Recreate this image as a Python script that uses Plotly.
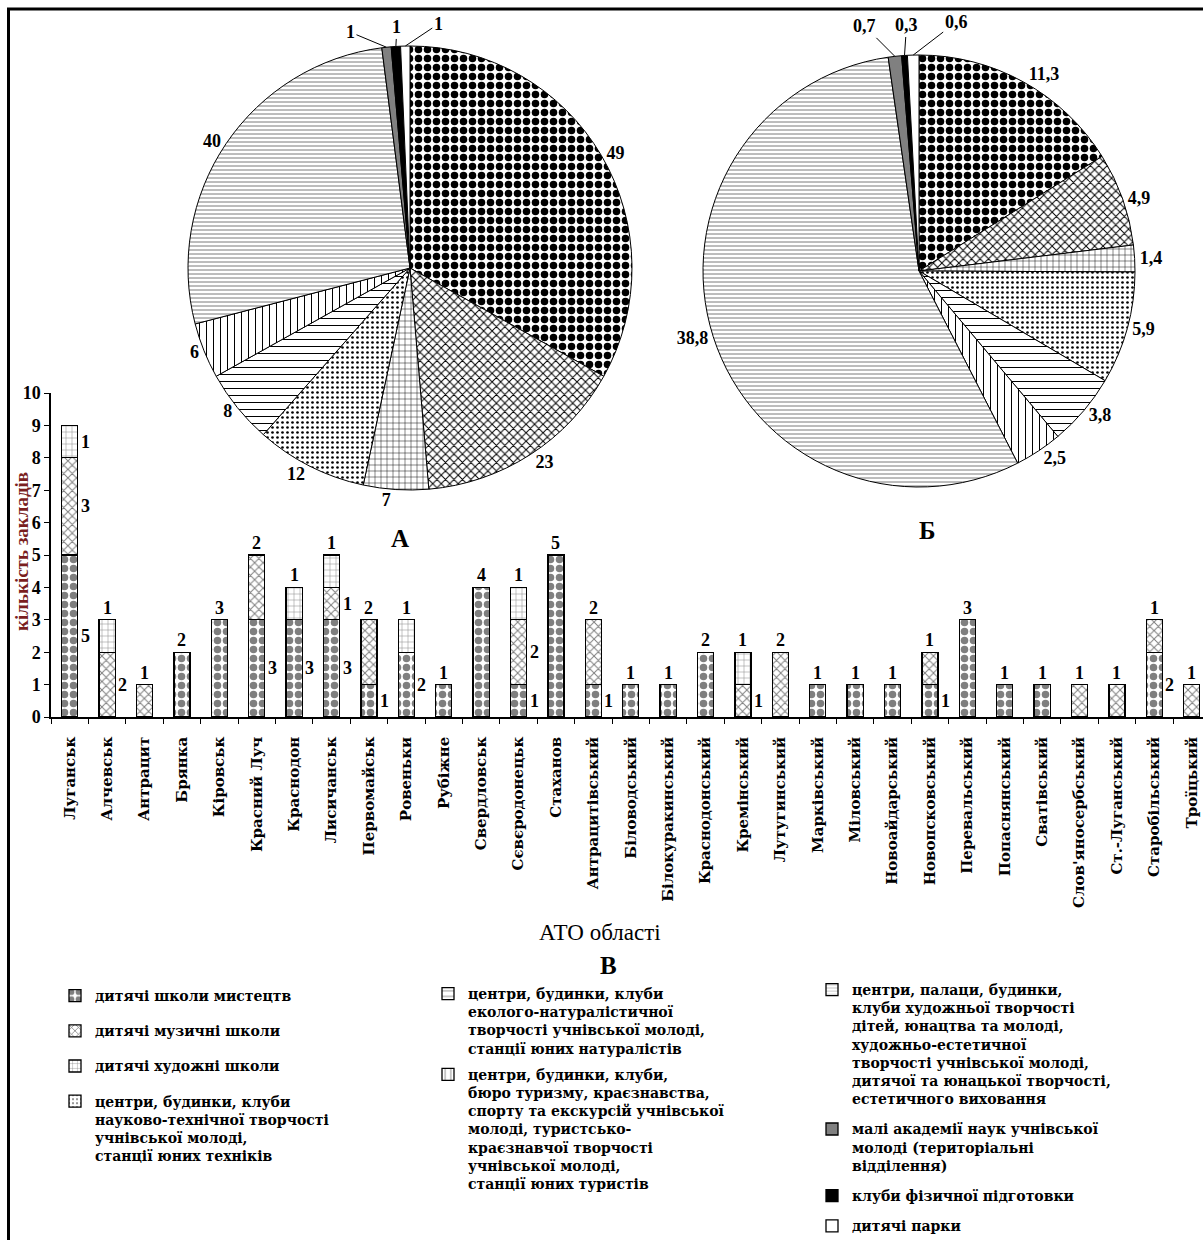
import math
import plotly.graph_objects as go

# ---------------- data ----------------
categories = ["Луганськ", "Алчевськ", "Антрацит", "Брянка", "Кіровськ", "Красний Луч",
              "Краснодон", "Лисичанськ", "Первомайськ", "Ровеньки", "Рубіжне", "Свердловськ",
              "Сєвєродонецьк", "Стаханов", "Антрацитівський", "Біловодський",
              "Білокуракинський", "Краснодонський", "Кремінський", "Лутугинський",
              "Марківський", "Міловський", "Новоайдарський", "Новопсковський",
              "Перевальський", "Попаснянський", "Сватівський", "Слов'яносербський",
              "Ст.-Луганський", "Старобільський", "Троїцький"]

art_schools      = [5, 0, 0, 2, 3, 3, 3, 3, 1, 2, 1, 4, 1, 5, 1, 1, 1, 2, 0, 0, 1, 1, 1, 1, 3, 1, 1, 0, 0, 2, 0]
music_schools    = [3, 2, 1, 0, 0, 2, 0, 1, 2, 0, 0, 0, 2, 0, 2, 0, 0, 0, 1, 2, 0, 0, 0, 1, 0, 0, 0, 1, 1, 1, 1]
fine_art_schools = [1, 1, 0, 0, 0, 0, 1, 1, 0, 1, 0, 0, 1, 0, 0, 0, 0, 0, 1, 0, 0, 0, 0, 0, 0, 0, 0, 0, 0, 0, 0]

institution_types = [
    "дитячі школи мистецтв",
    "дитячі музичні школи",
    "дитячі художні школи",
    "центри, будинки, клуби<br>науково-технічної творчості<br>учнівської молоді,<br>станції юних техніків",
    "центри, будинки, клуби<br>еколого-натуралістичної<br>творчості учнівської молоді,<br>станції юних натуралістів",
    "центри, будинки, клуби,<br>бюро туризму, краєзнавства,<br>спорту та екскурсій учнівської<br>молоді, туристсько-<br>краєзнавчої творчості<br>учнівської молоді,<br>станції юних туристів",
    "центри, палаци, будинки,<br>клуби художньої творчості<br>дітей, юнацтва та молоді,<br>художньо-естетичної<br>творчості учнівської молоді,<br>дитячої та юнацької творчості,<br>естетичного виховання",
    "малі академії наук учнівської<br>молоді (територіальні<br>відділення)",
    "клуби фізичної підготовки",
    "дитячі парки",
]
pie_a_counts = [49, 23, 7, 12, 8, 6, 40, 1, 1, 1]
pie_b_values = [11.3, 4.9, 1.4, 5.9, 3.8, 2.5, 38.8, 0.7, 0.3, 0.6]

# ---------------- styles ----------------
styles = [
    dict(color="white", shape=".", size=9, solidity=0.55, fg="black"),
    dict(color="white", shape="x", size=6, solidity=0.3, fg="black"),
    dict(color="white", shape="+", size=6, solidity=0.15, fg="black"),
    dict(color="white", shape=".", size=5, solidity=0.22, fg="black"),
    dict(color="white", shape="-", size=7, solidity=0.15, fg="black"),
    dict(color="white", shape="|", size=7, solidity=0.15, fg="black"),
    dict(color="white", shape="-", size=4, solidity=0.25, fg="#7a7a7a"),
    dict(color="#808080", shape="", size=8, solidity=0.3, fg="black"),
    dict(color="black", shape="", size=8, solidity=0.3, fg="black"),
    dict(color="white", shape="", size=8, solidity=0.3, fg="black"),
]
W, H = 1203, 1240
SERIF = "Liberation Serif"
WIDE = "DejaVu Serif"

# pie geometry (pixels): centre x, centre y, radius
PIE_A = (410, 268, 222)
PIE_B = (919, 271, 216)
# small-slice label offsets (pixels, text relative to slice rim) for the last three slices
OFFS_A = [(-36, -15), (1, -19), (33, -22)]
OFFS_B = [(-30, -30), (2, -30), (43, -33)]


def px_x(p):
    return p / W


def px_y(p):
    return 1 - p / H


def pat(s):
    return dict(shape=s["shape"], size=s["size"], solidity=s["solidity"], fgcolor=s["fg"])


def fmt_b(v):
    return f"{v:.1f}".replace(".", ",")


fig = go.Figure()

pie_marker = dict(
    colors=[s["color"] for s in styles],
    line=dict(color="black", width=1),
    pattern=dict(shape=[s["shape"] for s in styles],
                 size=[s["size"] for s in styles],
                 solidity=[s["solidity"] for s in styles],
                 fgcolor=[s["fg"] for s in styles]),
)
pie_font = dict(family=SERIF, size=18, color="black", weight="bold")
n_small = 3

annotations = []


def add_pie(values, fmt, geom, offs):
    cx, cy, r = geom
    texts = [fmt(v) for v in values]
    shown = texts[:-n_small] + [""] * n_small
    fig.add_trace(go.Pie(
        labels=institution_types, values=values, sort=False, direction="clockwise",
        rotation=0, marker=pie_marker, textposition="outside", textinfo="text", text=shown,
        textfont=pie_font,
        domain=dict(x=[px_x(cx - r), px_x(cx + r)], y=[px_y(cy + r), px_y(cy - r)]),
        showlegend=False, hoverinfo="label+value",
    ))
    total = sum(values)
    cum = 0
    for k, v in enumerate(values):
        mid = (cum + v / 2) / total * 2 * math.pi
        cum += v
        j = k - (len(values) - n_small)
        if j < 0:
            continue
        ex = cx + r * math.sin(mid)
        ey = cy - r * math.cos(mid)
        annotations.append(dict(
            x=px_x(ex), y=px_y(ey), xref="paper", yref="paper", text=texts[k],
            showarrow=True, arrowhead=0, arrowwidth=1, arrowcolor="black",
            ax=offs[j][0], ay=offs[j][1], font=pie_font, standoff=0,
        ))


add_pie(pie_a_counts, str, PIE_A, OFFS_A)
add_pie(pie_b_values, fmt_b, PIE_B, OFFS_B)

stack = [art_schools, music_schools, fine_art_schools]
for k, series in enumerate(stack):
    s = styles[k]
    fig.add_trace(go.Bar(
        x=categories, y=[v if v > 0 else None for v in series],
        name=institution_types[k],
        marker=dict(color=s["color"], line=dict(color="black", width=1.3), pattern=pat(s)),
        legend="legend", legendgroup=f"g{k}", showlegend=True,
    ))

legend_of = {3: "legend", 4: "legend2", 5: "legend2", 6: "legend3", 7: "legend3", 8: "legend3", 9: "legend3"}
for k in range(3, 10):
    s = styles[k]
    fig.add_trace(go.Bar(
        x=[None], y=[None], name=institution_types[k],
        marker=dict(color=s["color"], line=dict(color="black", width=1.3), pattern=pat(s)),
        legend=legend_of[k], legendgroup=f"g{k}", showlegend=True,
    ))

# value labels on bars
lab_font = dict(family=SERIF, size=18, color="black", weight="bold")
for i, cat in enumerate(categories):
    segs = [series[i] for series in stack]
    total = sum(segs)
    nz = [k for k in range(3) if segs[k] > 0]
    base = 0
    for k in nz:
        v = segs[k]
        if k == nz[-1] and total <= 8:
            annotations.append(dict(x=i, y=total, xref="x", yref="y", text=str(v),
                                    showarrow=False, xanchor="center", yanchor="bottom",
                                    font=lab_font))
        else:
            annotations.append(dict(x=i, y=base + v / 2, xref="x", yref="y", text=str(v),
                                    showarrow=False, xanchor="left", xshift=9,
                                    yanchor="middle", font=lab_font))
        base += v

big = dict(family=SERIF, size=25, color="black", weight="bold")
annotations += [
    dict(x=px_x(400), y=px_y(538), xref="paper", yref="paper", text="А", showarrow=False,
         xanchor="center", yanchor="middle", font=big),
    dict(x=px_x(927), y=px_y(530), xref="paper", yref="paper", text="Б", showarrow=False,
         xanchor="center", yanchor="middle", font=big),
    dict(x=px_x(608), y=px_y(965), xref="paper", yref="paper", text="В", showarrow=False,
         xanchor="center", yanchor="middle", font=big),
    dict(x=px_x(600), y=px_y(932), xref="paper", yref="paper", text="АТО області", showarrow=False,
         xanchor="center", yanchor="middle", font=dict(family=SERIF, size=23, color="black")),
    dict(x=px_x(21), y=px_y(552), xref="paper", yref="paper", text="кількість закладів",
         showarrow=False, textangle=-90, xanchor="center", yanchor="middle",
         font=dict(family=SERIF, size=19, color="#7a1f1f", weight="bold")),
]


def leg(x, y, size, gap):
    return dict(x=px_x(x), y=px_y(y), font=dict(family=WIDE, size=size, color="black", weight="bold"),
                bgcolor="rgba(0,0,0,0)", borderwidth=0, yanchor="top", xanchor="left",
                traceorder="grouped", tracegroupgap=gap, valign="top", itemwidth=30,
                orientation="v")


fig.update_layout(
    width=W, height=H, margin=dict(l=0, r=0, t=0, b=0, autoexpand=False),
    paper_bgcolor="white", plot_bgcolor="rgba(0,0,0,0)",
    separators=", ", barmode="stack", bargap=0.57,
    xaxis=dict(domain=[px_x(51), 1.0], type="category", categoryorder="array",
               categoryarray=categories, range=[-0.5, 30.3], tickangle=-90,
               tickson="boundaries", ticks="outside", ticklen=5, tickcolor="black",
               showline=True, linecolor="black", linewidth=1.5, showgrid=False,
               zeroline=False, automargin=False, ticklabelstandoff=12,
               tickfont=dict(family=WIDE, size=15, color="black", weight="bold")),
    yaxis=dict(domain=[px_y(717), px_y(393)], range=[0, 10], dtick=1, ticks="outside",
               ticklen=5, tickcolor="black", showline=True, linecolor="black", linewidth=1.5,
               showgrid=False, zeroline=False, automargin=False,
               tickfont=dict(family=SERIF, size=18, color="black", weight="bold")),
    legend=leg(55, 980, 14, 14),
    legend2=leg(428, 978, 14, 5),
    legend3=leg(812, 974, 14, 9),
    annotations=annotations,
    shapes=[
        dict(type="line", xref="paper", yref="paper", x0=px_x(7), x1=1, y0=px_y(9), y1=px_y(9),
             line=dict(color="black", width=3)),
        dict(type="line", xref="paper", yref="paper", x0=px_x(8.5), x1=px_x(8.5), y0=0, y1=px_y(8),
             line=dict(color="black", width=3)),
    ],
    showlegend=True,
)

fig.write_html("out.html", config={"displayModeBar": False},
               post_script="document.body.style.margin='0';")
